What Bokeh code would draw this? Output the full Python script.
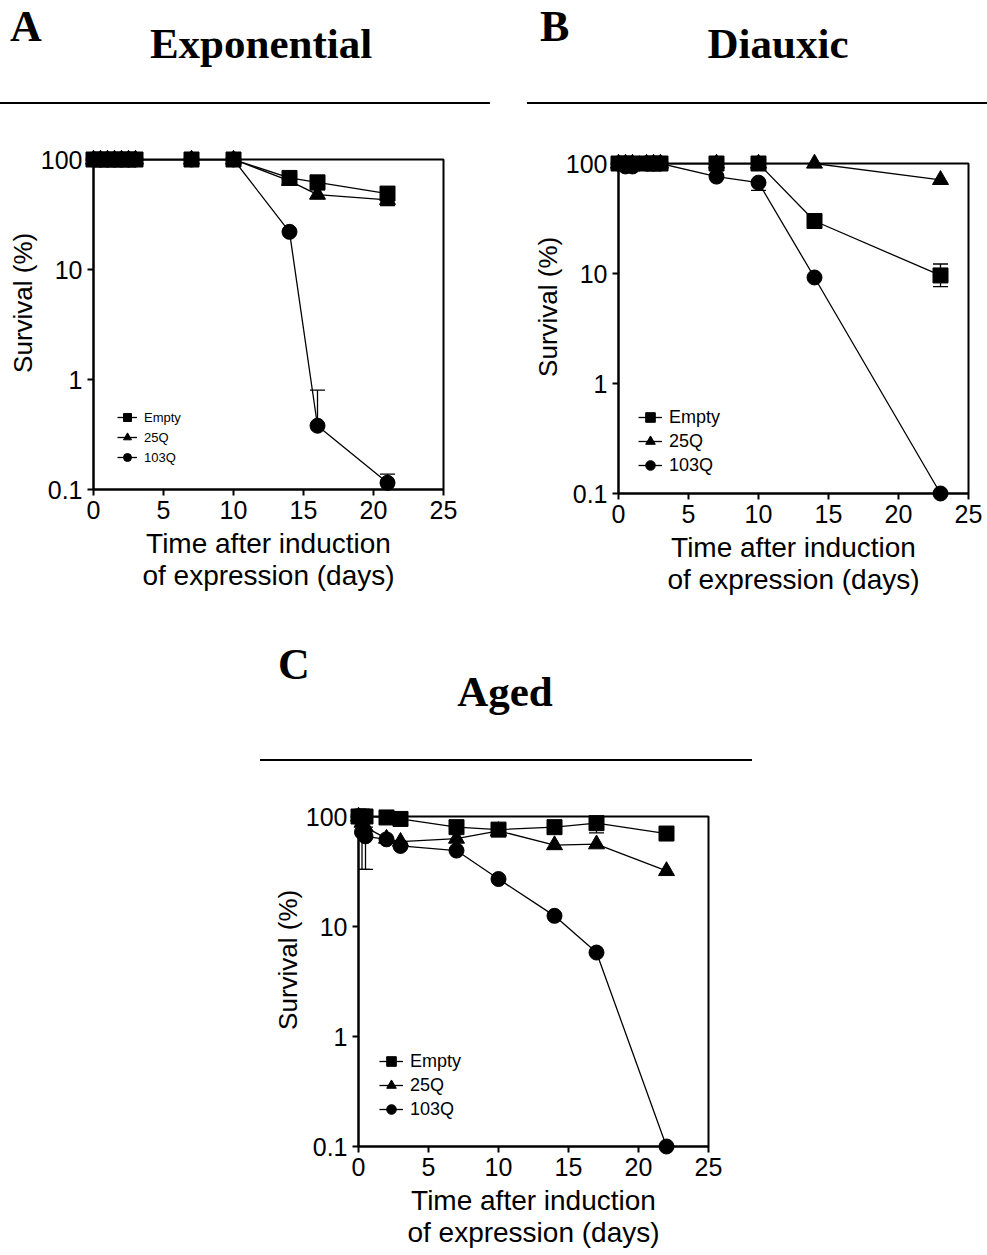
from bokeh.plotting import figure
from bokeh.models import (Range1d, FixedTicker, CustomJSTickFormatter,
                          Whisker, TeeHead, ColumnDataSource, Legend, LegendItem, Div, Spacer)
from bokeh.layouts import column, row
from bokeh.embed import file_html
from bokeh.resources import INLINE

# ---------------- data ----------------
SERIES = ["Empty", "25Q", "103Q"]
X_TICKS = [0, 5, 10, 15, 20, 25]
Y_TICKS = [0.1, 1, 10, 100]
X_LABEL = "Time after induction\nof expression (days)"
Y_LABEL = "Survival (%)"

# A: Exponential
A_days = [0, 0.5, 1, 1.5, 2, 2.5, 3, 7, 10, 14, 16, 21]
A_empty = [100, 100, 100, 100, 100, 100, 100, 100, 100, 68, 62, 49]
A_25q = [100, 100, 100, 100, 100, 100, 100, 100, 100, 64, 48, 43]
A_103q = [100, 100, 100, 100, 100, 100, 100, 100, 100, 22, 0.38, 0.115]
A_err_x = [14, 16, 21, 21, 16, 21]
A_err_lo = [60, 44, 44, 38, 0.38, 0.115]
A_err_hi = [76, 53, 54, 47, 0.8, 0.138]

# B: Diauxic
B_days = [0, 0.5, 1, 2, 2.5, 3, 7, 10, 14, 23]
B_empty = [100, 100, 100, 100, 100, 100, 100, 100, 30, 9.6]
B_25q = [100, 100, 100, 100, 100, 100, 100, 100, 100, 71]
B_103q = [100, 94, 94, 100, 100, 100, 76, 67, 9.2, 0.1]
B_err_x = [23, 10]
B_err_lo = [7.6, 57]
B_err_hi = [12.2, 67]

# C: Aged
C_days = [0, 0.25, 0.5, 2, 3, 7, 10, 14, 17, 22]
C_empty = [100, 100, 100, 98, 95, 80, 76, 80, 87, 70]
C_25q = [100, 88, 80, 63, 59, 63, 74, 55, 56, 32]
C_103q = [100, 72, 66, 62, 54, 49, 27, 12.5, 5.8, 0.1]
C_err_x = [0.25, 0.5, 17]
C_err_lo = [33, 33, 71]
C_err_hi = [72, 80, 100]

FONT = "Liberation Sans"
SERIF = "Liberation Serif"
NBSP = "\u00a0"


def style_axis(ax, tick_size="25px", label_size="26px"):
    ax.axis_line_color = "black"
    ax.axis_line_width = 2
    ax.major_tick_line_color = "black"
    ax.major_tick_line_width = 2
    ax.major_tick_out = 6
    ax.major_tick_in = 0
    ax.minor_tick_line_color = None
    ax.major_label_text_font = FONT
    ax.major_label_text_font_size = tick_size
    ax.major_label_text_color = "black"
    ax.axis_label_text_font = FONT
    ax.axis_label_text_font_size = label_size
    ax.axis_label_text_font_style = "normal"
    ax.axis_label_text_color = "black"


def make_panel(days, empty, q25, q103, ex, elo, ehi, legend_font, glyph, legend_loc,
               ml, mr, mt, mb):
    p = figure(frame_width=350, frame_height=330,
               x_range=Range1d(0, 25), y_range=Range1d(0.1, 100),
               y_axis_type="log", output_backend="svg", toolbar_location=None,
               min_border_left=ml, min_border_right=mr, min_border_top=mt, min_border_bottom=mb)
    p.outline_line_color = "black"
    p.outline_line_width = 2
    p.grid.visible = False
    p.background_fill_color = "white"
    p.border_fill_color = "white"

    xa = p.xaxis[0]
    xa.ticker = FixedTicker(ticks=X_TICKS)
    style_axis(xa, label_size="28px")
    xa.axis_label = X_LABEL
    xa.axis_label_text_line_height = 1.05
    xa.major_label_standoff = 5
    xa.axis_label_standoff = 6

    ya = p.yaxis[0]
    ya.ticker = FixedTicker(ticks=Y_TICKS)
    ya.formatter = CustomJSTickFormatter(code="return Number(tick.toPrecision(2)).toString();")
    style_axis(ya)
    # leading no-break spaces lift the visible label a little above the axis centre
    ya.axis_label = NBSP * 6 + Y_LABEL
    ya.major_label_standoff = 5
    ya.axis_label_standoff = 0

    wsrc = ColumnDataSource(dict(x=ex, lo=elo, hi=ehi))
    p.add_layout(Whisker(source=wsrc, base="x", lower="lo", upper="hi", dimension="height",
                         line_color="black", line_width=1.3, level="overlay",
                         upper_head=TeeHead(size=15, line_color="black", line_width=1.3),
                         lower_head=TeeHead(size=15, line_color="black", line_width=1.3)))

    specs = [(q103, "circle", 15), (q25, "triangle", 16), (empty, "square", 15)]
    lines = {}
    marks = {}
    for vals, mk, sz in specs:
        lines[mk] = p.line(days, vals, line_color="black", line_width=1.3)
    for vals, mk, sz in specs:
        marks[mk] = p.scatter(days, vals, marker=mk, size=sz, level="overlay",
                              fill_color="black", line_color="black")

    items = [LegendItem(label=SERIES[0], renderers=[lines["square"], marks["square"]]),
             LegendItem(label=SERIES[1], renderers=[lines["triangle"], marks["triangle"]]),
             LegendItem(label=SERIES[2], renderers=[lines["circle"], marks["circle"]])]
    leg = Legend(items=items, location=legend_loc, border_line_color=None,
                 background_fill_alpha=0, padding=0, margin=0, spacing=0,
                 glyph_width=glyph, glyph_height=glyph, label_height=glyph,
                 label_standoff=7, label_text_font=FONT, label_text_font_size=legend_font,
                 label_text_color="black")
    p.add_layout(leg)
    return p


def heading(letter, letter_left, letter_top, title, title_center, title_top,
            line_left, line_width, line_top, width, height):
    html = (
        f'<div style="position:relative;width:{width}px;height:{height}px;">'
        f'<div style="position:absolute;left:{letter_left}px;top:{letter_top}px;'
        f"font-family:'{SERIF}';font-weight:bold;font-size:44px;line-height:1;"
        f'white-space:nowrap;color:black;">{letter}</div>'
        f'<div style="position:absolute;left:{title_center}px;top:{title_top}px;'
        f"transform:translateX(-50%);font-family:'{SERIF}';font-weight:bold;"
        f'font-size:43px;line-height:1;white-space:nowrap;color:black;">{title}</div>'
        f'<div style="position:absolute;left:{line_left}px;top:{line_top}px;'
        f'width:{line_width}px;height:2px;background:black;"></div>'
        f'</div>'
    )
    return Div(text=html, width=width, height=height, margin=0)


pA = make_panel(A_days, A_empty, A_25q, A_103q, A_err_x, A_err_lo, A_err_hi,
                "13px", 20, (24, 22), ml=93, mr=47, mt=39, mb=115)
pB = make_panel(B_days, B_empty, B_25q, B_103q, B_err_x, B_err_lo, B_err_hi,
                "18px", 24, (20, 16), ml=128, mr=17, mt=43, mb=115)
pC = make_panel(C_days, C_empty, C_25q, C_103q, C_err_x, C_err_lo, C_err_hi,
                "18px", 24, (21, 25), ml=98, mr=20, mt=30, mb=104)

hA = heading("A", 10, 5, "Exponential", 261, 22, 0, 490, 102, 490, 120)
hB = heading("B", 50, 5, "Diauxic", 288, 22, 37, 460, 102, 495, 120)
hC = heading("C", 18, 35, "Aged", 245, 62, 0, 492, 151, 500, 178)

layout = column(
    row(hA, hB),
    row(column(pA), column(pB)),
    row(Spacer(width=260, height=10), column(hC, pC)),
)

open("out.html", "w").write(file_html(layout, INLINE))
